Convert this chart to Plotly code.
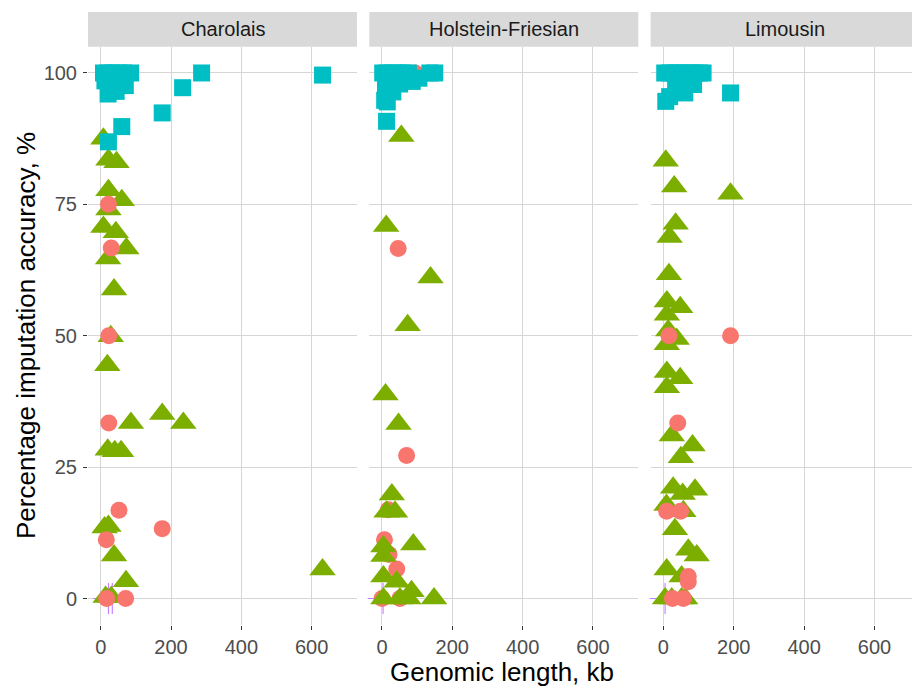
import plotly.graph_objects as go

# ---------------- data ----------------
breeds = ["Charolais", "Holstein-Friesian", "Limousin"]
x_ticks = [0, 200, 400, 600]
y_ticks = [0, 25, 50, 75, 100]

# Charolais
char_circle_x = [22, 30, 23, 23, 52, 16, 175, 71, 17]
char_circle_y = [75, 66.7, 50, 33.4, 16.8, 11.2, 13.3, 0, 0]
char_triangle_x = [7.6, 22, 45, 22, 60, 22, 7.6, 43, 73, 21, 38, 28.6, 19, 175, 86, 235,
                   20, 40, 58, 11, 22, 38, 72, 14, 30, 631]
char_triangle_y = [87.5, 83.5, 83, 77.7, 75.8, 74, 70.7, 69.7, 66.6, 64.7, 58.8, 49.9, 44.4, 35.1, 33.4, 33.4,
                   28.3, 28, 28, 13.5, 13.8, 8.2, 3.3, 0.3, 0.3, 5.5]
char_square_x = [8, 20, 35, 50, 65, 85, 12, 30, 50, 70, 21, 44, 287, 233, 175, 60, 22, 631]
char_square_y = [100, 100, 100, 100, 100, 100, 98.5, 99, 98, 97.6, 96, 96.5, 100, 97.2, 92.4, 89.8, 86.9, 99.6]
char_plus_x = [22, 33]
char_plus_y = [0, 0]

# Holstein-Friesian
hol_circle_x = [94, 46, 70, 18, 7, 20, 42, 0, 51]
hol_circle_y = [100, 66.6, 27.2, 16.9, 11.2, 8.4, 5.6, 0, 0]
hol_triangle_x = [55, 12, 138, 73, 10, 47, 28, 13, 37, 89, 4, 4, 4, 42, 84, 148, 4, 51, 75]
hol_triangle_y = [88, 70.9, 61.1, 52, 38.8, 33.2, 19.8, 16.5, 16.5, 10.3, 9.9, 8.1, 4.2, 3.2, 1.4, 0, 0, 0, 0]
hol_square_x = [2, 15, 30, 45, 60, 75, 136, 150, 86, 105, 65, 50, 31, 10, 15, 7.6, 13]
hol_square_y = [100, 100, 100, 100, 100, 100, 100, 100, 98.4, 99, 98.5, 97.9, 96.4, 97, 94.5, 94.8, 90.8]
hol_plus_x = [3]
hol_plus_y = [0]

# Limousin
lim_circle_x = [16, 191, 41, 9.5, 49, 71, 71, 26, 57]
lim_circle_y = [50, 50, 33.4, 16.6, 16.6, 4.2, 3.2, 0, 0]
lim_triangle_x = [7, 31, 191, 35, 18, 16, 10, 48, 10, 14, 38, 10, 10, 48, 10, 24, 83, 50, 28, 55, 90, 9,
                  57, 33, 71, 95, 9.5, 52, 5, 24, 52, 62]
lim_triangle_y = [83.3, 78.4, 77, 71.3, 68.8, 61.7, 56.5, 55.4, 54, 51, 49.4, 48.4, 43.1, 41.9, 40.2, 31, 29.1,
                  26.9, 21.1, 19.9, 20.7, 17.8, 16.6, 13.2, 9.3, 8.2, 5.5, 4.2, 0, 0, 0, 0]
lim_square_x = [4, 18, 32, 46, 60, 75, 90, 103, 113, 86, 61, 18, 7, 35, 48, 70, 191]
lim_square_y = [100, 100, 100, 100, 100, 100, 100, 100, 100, 97.8, 96.2, 95.5, 94.6, 97, 98.5, 98.8, 96.2]
lim_plus_x = [5]
lim_plus_y = [0]

# ---------------- styling ----------------
RED, GREEN, CYAN, PURPLE = "#F8766D", "#7CAE00", "#00BFC4", "#C77CFF"
W, H = 912, 688
FONT = "Liberation Sans"
TICK_SIZE = 20
TITLE_SIZE = 26

panels = [
    dict(name=breeds[0], circle=(char_circle_x, char_circle_y), tri=(char_triangle_x, char_triangle_y),
         sq=(char_square_x, char_square_y), plus=(char_plus_x, char_plus_y), red_on_top=True,
         px=(88, 357), xr=[-36.1, 729]),
    dict(name=breeds[1], circle=(hol_circle_x, hol_circle_y), tri=(hol_triangle_x, hol_triangle_y),
         sq=(hol_square_x, hol_square_y), plus=(hol_plus_x, hol_plus_y), red_on_top=False,
         px=(369.3, 638.3), xr=[-36.1, 729]),
    dict(name=breeds[2], circle=(lim_circle_x, lim_circle_y), tri=(lim_triangle_x, lim_triangle_y),
         sq=(lim_square_x, lim_square_y), plus=(lim_plus_x, lim_plus_y), red_on_top=True,
         px=(650.6, 912), xr=[-36.1, 706.5]),
]

panel_top, panel_bottom = 46.7, 624.8
strip_top = 12
ydom = [(H - panel_bottom) / H, (H - panel_top) / H]

fig = go.Figure()
layout = dict(width=W, height=H, autosize=False, margin=dict(l=0, r=0, t=0, b=0),
              paper_bgcolor="white", plot_bgcolor="white", showlegend=False,
              font=dict(family=FONT, color="#4D4D4D"))
shapes, annotations = [], []

for i, p in enumerate(panels):
    sfx = "" if i == 0 else str(i + 1)
    xa, ya = "x" + sfx, "y" + sfx

    def add(xy, symbol, color, size, line=None):
        fig.add_trace(go.Scatter(
            x=xy[0], y=xy[1], mode="markers", xaxis=xa, yaxis=ya, cliponaxis=False,
            marker=dict(symbol=symbol, color=color, size=size,
                        line=line if line else dict(width=0)),
            hoverinfo="x+y"))

    add(p["plus"], "cross-thin-open", PURPLE, 22, dict(width=1.1, color=PURPLE))
    if p["red_on_top"]:
        add(p["tri"], "triangle-up", GREEN, 23)
        add(p["circle"], "circle", RED, 17)
    else:
        add(p["circle"], "circle", RED, 17)
        add(p["tri"], "triangle-up", GREEN, 23)
    add(p["sq"], "square", CYAN, 17)

    xdom = [p["px"][0] / W, min(1.0, p["px"][1] / W)]
    layout["xaxis" + sfx] = dict(
        domain=xdom, range=p["xr"], tickvals=x_ticks, ticktext=[str(v) for v in x_ticks],
        showgrid=True, gridcolor="#D6D6D6", gridwidth=1.1, zeroline=False,
        ticks="outside", ticklen=4, tickwidth=1.1, tickcolor="#333333",
        tickfont=dict(size=TICK_SIZE, color="#4D4D4D", family=FONT), showline=False, anchor=ya)
    layout["yaxis" + sfx] = dict(
        domain=ydom, range=[-5, 105], tickvals=y_ticks, ticktext=[str(v) for v in y_ticks],
        showgrid=True, gridcolor="#D6D6D6", gridwidth=1.1, zeroline=False,
        ticks="outside" if i == 0 else "", ticklen=4, tickwidth=1.1, tickcolor="#333333",
        showticklabels=(i == 0), ticklabelstandoff=2,
        tickfont=dict(size=TICK_SIZE, color="#4D4D4D", family=FONT), showline=False, anchor=xa)
    if i > 0:
        layout["yaxis" + sfx]["matches"] = "y"

    shapes.append(dict(type="rect", xref="paper", yref="paper", x0=xdom[0], x1=xdom[1],
                       y0=(H - panel_top) / H, y1=(H - strip_top) / H,
                       fillcolor="#D9D9D9", line=dict(width=0), layer="below"))
    annotations.append(dict(text=p["name"], xref="paper", yref="paper",
                            x=(p["px"][0] + p["px"][1]) / 2 / W if i < 2 else (p["px"][0] + 920) / 2 / W,
                            y=(H - (strip_top + panel_top) / 2) / H,
                            showarrow=False, font=dict(size=TICK_SIZE, color="#1A1A1A", family=FONT),
                            xanchor="center", yanchor="middle"))

annotations.append(dict(text="Genomic length, kb", xref="paper", yref="paper", x=502 / W,
                        y=(H - 672) / H, showarrow=False, xanchor="center", yanchor="middle",
                        font=dict(size=TITLE_SIZE, color="black", family=FONT)))
annotations.append(dict(text="Percentage imputation accuracy, %", xref="paper", yref="paper",
                        x=26 / W, y=(H - 336) / H, textangle=-90, showarrow=False,
                        xanchor="center", yanchor="middle",
                        font=dict(size=TITLE_SIZE, color="black", family=FONT)))

layout["shapes"] = shapes
layout["annotations"] = annotations
fig.update_layout(**layout)
fig.write_html("out.html", config={"displayModeBar": False},
               post_script="document.body.style.margin='0';document.body.style.overflow='hidden';")
